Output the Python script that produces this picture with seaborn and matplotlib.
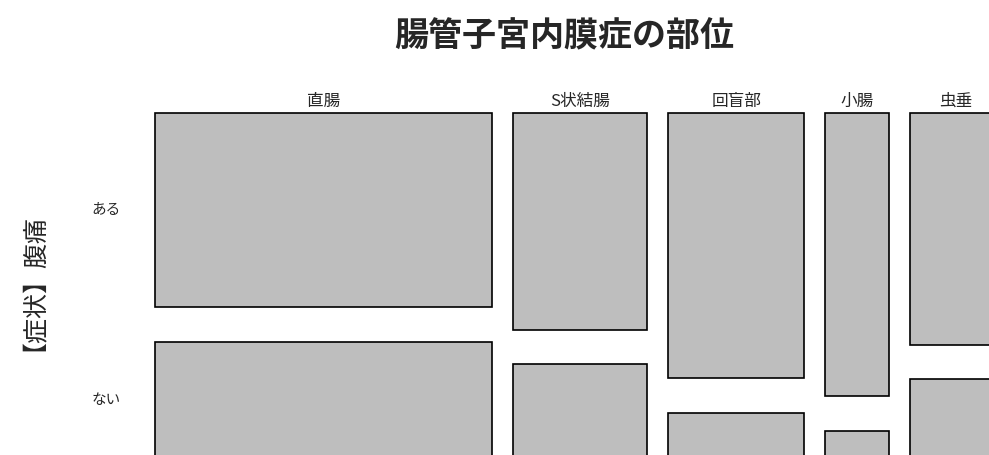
import numpy as np
import matplotlib.pyplot as plt
import seaborn as sns

# 部位ごとの症例数と「腹痛 ある」の割合
sites = ["直腸", "S状結腸", "回盲部", "小腸", "虫垂"]
site_n = [111, 44, 45, 21, 30]
pain_yes_share = [0.626, 0.70, 0.855, 0.913, 0.748]
pain_levels = ["ある", "ない"]

sns.set_theme(style="white")
plt.rcParams['font.family'] = ['Noto Sans CJK JP', 'DejaVu Sans']

W, H = 989, 455
fig = plt.figure(figsize=(W / 100, H / 100), dpi=100)
ax = fig.add_axes([0, 0, 1, 1])

# layout (pixels of the original plot region)
px_unit = 3.04      # px per case horizontally
px_frac = 310.0     # px per proportion vertically
x0_px, y0_px = 155, 113
gap_x = 20.75 / px_unit
gap_y = 34.5 / px_frac

n = np.array(site_n, dtype=float)
yes = np.array(pain_yes_share)
lefts = np.concatenate([[0], np.cumsum(n)[:-1]]) + np.arange(len(n)) * gap_x

box = dict(color="#bebebe", edgecolor="black", linewidth=1.2, align="edge", clip_on=False)
ax.bar(lefts, yes, width=n, bottom=0, **box)
ax.bar(lefts, 1 - yes, width=n, bottom=yes + gap_y, **box)

ax.set_xlim(-x0_px / px_unit, (W - x0_px) / px_unit)
ax.set_ylim((H - y0_px) / px_frac, -y0_px / px_frac)
ax.axis("off")

for name, l, w in zip(sites, lefts, n):
    ax.text(l + w / 2, -12 / px_frac, name, ha="center", va="center", fontsize=12)

row_x = -(x0_px - 106) / px_unit
ax.text(row_x, yes[0] / 2, pain_levels[0], ha="center", va="center", fontsize=10.5)
ax.text(row_x, yes[0] + gap_y + (1 - yes[0]) / 2, pain_levels[1], ha="center", va="center", fontsize=10.5)

fig.text(22 / W, 1 - 276 / H, "【症状】腹痛", rotation=90, ha="center", va="center", fontsize=18)
fig.text(564 / W, 1 - 36 / H, "腸管子宮内膜症の部位", ha="center", va="center",
         fontsize=24.5, fontweight="bold")

fig.savefig("out.png", dpi=100)
